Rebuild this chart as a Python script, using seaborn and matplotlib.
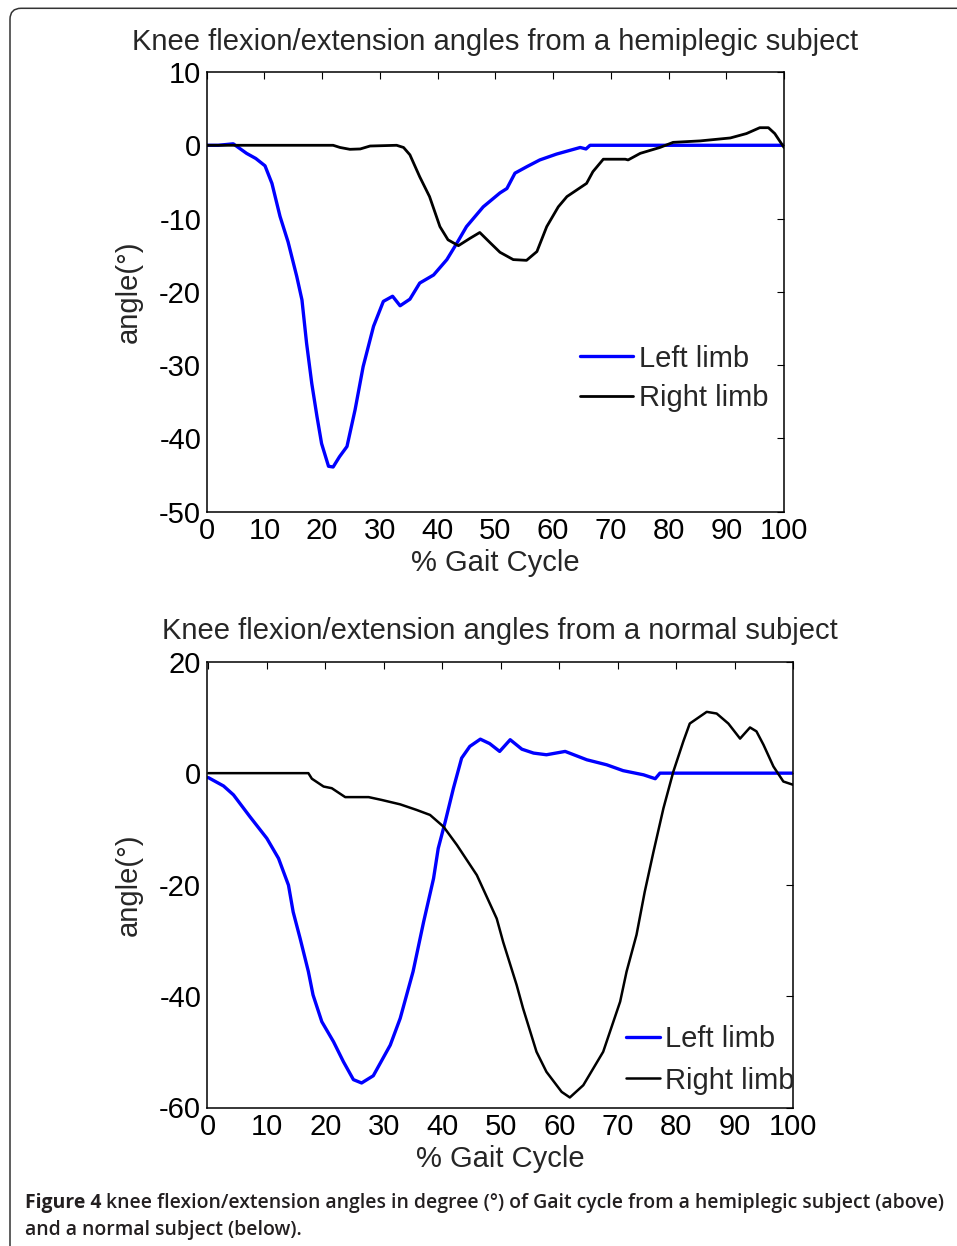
import numpy as np
import pandas as pd
import matplotlib
matplotlib.use("Agg")
import matplotlib.pyplot as plt
from matplotlib.patches import FancyBboxPatch
import seaborn as sns

# ---------------- data ----------------
hemi_left_x = [0, 2, 4.6, 6.9, 8.5, 10.1, 11.3, 12.7, 14.1, 15.6, 16.5, 17.3, 18.2, 19.1, 19.9, 21.1, 21.9,
               23.0, 24.3, 25.7, 27.1, 28.9, 30.6, 32.2, 33.5, 35.2, 36.9, 39.3, 41.6, 43.3, 45.0, 47.9,
               50.8, 52.0, 53.4, 55.5, 57.7, 60.6, 64.7, 65.7, 66.4, 100]
hemi_left_y = [0, 0, 0.2, -1.1, -1.8, -2.8, -5.2, -9.7, -13.2, -17.9, -21.1, -27.0, -32.5, -37.0, -40.7, -43.8,
               -43.9, -42.5, -41.1, -36.1, -30.2, -24.7, -21.3, -20.6, -21.9, -21.0, -18.8, -17.7, -15.6,
               -13.4, -11.1, -8.4, -6.5, -5.9, -3.8, -2.9, -2.0, -1.2, -0.3, -0.5, 0, 0]

hemi_right_x = [0, 21.9, 23.1, 24.8, 26.6, 28.3, 32.9, 34.1, 35.2, 36.9, 38.6, 40.4, 41.8, 43.6, 45.6, 47.3,
                49.1, 50.8, 53.1, 55.4, 57.2, 58.9, 60.9, 62.4, 65.8, 66.9, 68.7, 72.5, 73.0, 75.1, 78.5,
                80.8, 85.5, 90.7, 93.5, 95.8, 97.3, 98.4, 100]
hemi_right_y = [0, 0, -0.3, -0.55, -0.5, -0.1, 0, -0.3, -1.3, -4.3, -7.0, -11.1, -12.9, -13.7, -12.7, -11.9,
                -13.3, -14.6, -15.6, -15.7, -14.5, -11.1, -8.4, -7.0, -5.2, -3.6, -1.9, -1.9, -2.0, -1.1,
                -0.3, 0.4, 0.6, 1.0, 1.6, 2.4, 2.4, 1.6, -0.3]

norm_left_x = [0, 2.6, 4.3, 7.1, 10.0, 12.0, 13.7, 14.5, 15.7, 17.1, 17.9, 19.4, 21.4, 23.1, 24.8, 26.2, 28.2,
               31.1, 32.8, 35.0, 36.8, 38.5, 39.3, 40.5, 41.9, 43.3, 44.7, 46.5, 48.1, 49.8, 51.6, 53.6,
               55.6, 57.8, 61.0, 64.7, 68.1, 70.9, 74.4, 76.4, 77.2, 100]
norm_left_y = [-0.8, -2.3, -3.9, -7.8, -11.7, -15.3, -20.1, -24.9, -29.7, -35.6, -39.8, -44.6, -48.2, -51.8,
               -55.0, -55.6, -54.3, -48.8, -44.0, -35.6, -26.7, -18.9, -13.5, -8.7, -2.7, 2.7, 4.8, 6.1, 5.3,
               3.9, 6.0, 4.3, 3.6, 3.3, 3.9, 2.4, 1.5, 0.45, -0.3, -1.0, 0, 0]

norm_right_x = [0, 17.1, 17.7, 19.7, 21.1, 23.4, 27.4, 29.6, 32.8, 35.6, 37.9, 40.2, 42.5, 45.9, 47.6, 49.3,
                50.4, 52.7, 53.8, 56.1, 57.8, 60.4, 61.8, 64.1, 67.5, 70.4, 71.5, 73.2, 74.6, 76.1, 77.8,
                79.5, 81.2, 82.3, 85.2, 86.9, 88.9, 90.9, 92.6, 93.7, 94.9, 96.6, 98.3, 100]
norm_right_y = [0, 0, -1.0, -2.4, -2.7, -4.3, -4.3, -4.8, -5.6, -6.6, -7.5, -9.6, -12.9, -18.3, -22.2, -26.1,
                -30.3, -38.0, -42.2, -50.0, -53.6, -57.2, -58.2, -56.0, -50.0, -41.0, -35.6, -29.0, -21.3,
                -14.1, -6.3, 0.3, 5.7, 8.9, 11.0, 10.7, 8.9, 6.2, 8.2, 7.5, 5.1, 1.2, -1.5, -2.1]

titles = ["Knee flexion/extension angles from a hemiplegic subject",
          "Knee flexion/extension angles from a normal subject"]
series_names = ["Left limb", "Right limb"]
x_ticks = [0, 10, 20, 30, 40, 50, 60, 70, 80, 90, 100]
top_yticks = [-50, -40, -30, -20, -10, 0, 10]
bot_yticks = [-60, -40, -20, 0, 20]
caption_bold = "Figure 4"
caption_line1 = "knee flexion/extension angles in degree (°) of Gait cycle from a hemiplegic subject (above)"
caption_line2 = "and a normal subject (below)."

# ---------------- style ----------------
sns.set_style("white")
plt.rcParams["font.family"] = ["Liberation Sans", "DejaVu Sans"]
FS = 21
plt.rcParams.update({
    "xtick.direction": "in", "ytick.direction": "in",
    "xtick.top": True, "ytick.right": True,
    "xtick.major.size": 5, "ytick.major.size": 5,
    "xtick.major.width": 0.8, "ytick.major.width": 0.8,
    "axes.linewidth": 1.1, "axes.edgecolor": "black",
    "font.size": FS,
})

W, H = 957, 1246
fig = plt.figure(figsize=(W / 100, H / 100), dpi=100)
fig.patch.set_facecolor("white")

ax1 = fig.add_axes([206.7 / W, 1 - 511.7 / H, (784 - 206.7) / W, (511.7 - 72) / H])
ax2 = fig.add_axes([206.7 / W, 1 - 1107.5 / H, (793.3 - 206.7) / W, (1107.5 - 661.7) / H])

colors = {"Left limb": "#0000ff", "Right limb": "#000000"}


def build(lx, ly, rx, ry):
    return pd.concat([
        pd.DataFrame({"x": lx, "y": ly, "limb": series_names[0]}),
        pd.DataFrame({"x": rx, "y": ry, "limb": series_names[1]}),
    ], ignore_index=True)


df1 = build(hemi_left_x, hemi_left_y, hemi_right_x, hemi_right_y)
df2 = build(norm_left_x, norm_left_y, norm_right_x, norm_right_y)

for ax, df, title, yt, ylim, xlim, lw_b, lw_k in [
    (ax1, df1, titles[0], top_yticks, (-50, 10), (0, 100), 2.4, 2.0),
    (ax2, df2, titles[1], bot_yticks, (-60, 20), (-0.28, 100), 2.4, 1.8),
]:
    for name in series_names:
        sub = df[df["limb"] == name]
        sns.lineplot(data=sub, x="x", y="y", ax=ax, color=colors[name], sort=False,
                     estimator=None, lw=lw_b if name == "Left limb" else lw_k, label=name)
    ax.set_xlim(*xlim)
    ax.set_ylim(*ylim)
    ax.set_xticks(x_ticks)
    ax.set_yticks(yt)
    ax.set_xticklabels([str(t) for t in x_ticks])
    ax.set_yticklabels([str(t) for t in yt])
    ax.tick_params(labelsize=FS, pad=4, colors="black")
    ax.set_xlabel("% Gait Cycle", fontsize=FS, labelpad=3)
    ax.set_ylabel("angle(°)", fontsize=FS, labelpad=12)
    ax.set_title(title, fontsize=FS, pad=16)
    for s in ax.spines.values():
        s.set_visible(True)
        s.set_color("black")

ax1.legend(loc="upper left", bbox_to_anchor=(0.647, 0.38), frameon=False, fontsize=FS,
           handlelength=1.8, handletextpad=0.2, labelspacing=0.4, borderpad=0, borderaxespad=0)
ax2.legend(loc="upper left", bbox_to_anchor=(0.715, 0.184), frameon=False, fontsize=FS,
           handlelength=1.15, handletextpad=0.2, labelspacing=0.45, borderpad=0, borderaxespad=0)

# border box
box = FancyBboxPatch((0.10, -0.2), 9.8, 12.377 + 0.2, boxstyle="round,pad=0,rounding_size=0.11",
                     transform=fig.dpi_scale_trans, fill=False, edgecolor="#333333", lw=1.1,
                     clip_on=False)
fig.patches.append(box)

# caption, fitted to the reference line width
cap_col = "#231f20"
cap_fam = ["Open Sans", "Liberation Sans", "DejaVu Sans"]
renderer = fig.canvas.get_renderer()
cs = 14.0
t_b = fig.text(25 / W, 1 - 1203 / H, caption_bold + " ", fontsize=cs, fontweight="bold",
               family=cap_fam, color=cap_col, va="center", ha="left")
t_1 = fig.text(0, 1 - 1203 / H, caption_line1, fontsize=cs, fontweight="semibold",
               family=cap_fam, color=cap_col, va="center", ha="left")
t_2 = fig.text(25 / W, 1 - 1230 / H, caption_line2, fontsize=cs, fontweight="semibold",
               family=cap_fam, color=cap_col, va="center", ha="left")
wb = t_b.get_window_extent(renderer).width
w1 = t_1.get_window_extent(renderer).width
scale = (952 - 25) / (wb + w1)
cs2 = cs * scale
for t in (t_b, t_1, t_2):
    t.set_fontsize(cs2)
wb = t_b.get_window_extent(renderer).width
t_1.set_x((25 + wb) / W)

fig.savefig("out.png", dpi=100, facecolor="white")
